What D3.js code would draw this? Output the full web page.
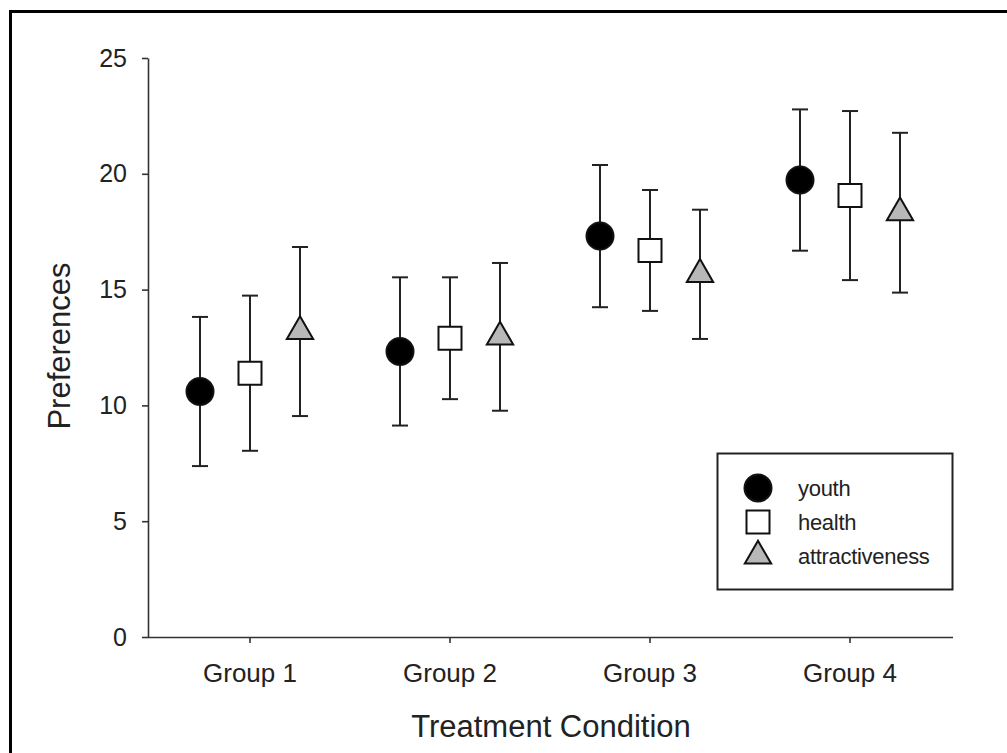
<!DOCTYPE html>
<html>
<head>
<meta charset="utf-8">
<script src="https://cdn.jsdelivr.net/npm/d3@7"></script>
<style>
  body { margin: 0; background: #fff; }
  svg { display: block; font-family: "Liberation Sans", Arial, sans-serif; }
</style>
</head>
<body>
<div id="chart"></div>
<script>
// data
const groups = ["Group 1", "Group 2", "Group 3", "Group 4"];
const seriesNames = ["youth", "health", "attractiveness"];
const youthMean = [10.6, 12.33, 17.31, 19.73];
const youthErr = [3.22, 3.2, 3.07, 3.05];
const healthMean = [11.39, 12.9, 16.69, 19.06];
const healthErr = [3.35, 2.63, 2.61, 3.65];
const attrMean = [13.19, 12.96, 15.66, 18.32];
const attrErr = [3.65, 3.19, 2.79, 3.45];
const yTicks = [0, 5, 10, 15, 20, 25];

const W = 1007, H = 753;
const svg = d3.select("#chart").append("svg")
    .attr("width", W)
    .attr("height", H);

// outer frame (runs off the right and bottom edge)
svg.append("rect")
    .attr("x", 10.5).attr("y", 11.5)
    .attr("width", 1010).attr("height", 760)
    .attr("fill", "none").attr("stroke", "#000").attr("stroke-width", 3);

let x = d3.scaleBand().domain(groups).range([150, 950]).paddingInner(0).paddingOuter(0),
    off = d3.scalePoint().domain(seriesNames).range([-50, 50]),
    y = d3.scaleLinear().domain([0, 25]).range([637, 58]);

let series = [
    {name: "youth", mean: youthMean, err: youthErr},
    {name: "health", mean: healthMean, err: healthErr},
    {name: "attractiveness", mean: attrMean, err: attrErr}
];

let symbolFor = {
    youth: {type: d3.symbolCircle, size: Math.PI * 13.5 * 13.5, fill: "#000"},
    health: {type: d3.symbolSquare, size: 23 * 23, fill: "#fff"},
    attractiveness: {type: d3.symbolTriangle, size: 300, fill: "#b8b8b8"}
};

// axes
let yAxis = svg.append("g")
    .attr("transform", "translate(148,0)")
    .call(d3.axisLeft(y).tickValues(yTicks).tickSize(6).tickSizeOuter(0).tickPadding(15));
let xAxis = svg.append("g")
    .attr("transform", "translate(0,637)")
    .call(d3.axisBottom(x).tickSize(6).tickSizeOuter(0).tickPadding(21));
xAxis.select(".domain").attr("d", "M148,0.5H953");

[xAxis, yAxis].forEach((ax) => {
    ax.select(".domain").attr("stroke", "#333").attr("stroke-width", 1.6);
    ax.selectAll(".tick line").attr("stroke", "#333").attr("stroke-width", 1.6);
    ax.selectAll(".tick text")
        .attr("fill", "#222")
        .style("font-family", "\"Liberation Sans\", Arial, sans-serif")
        .style("font-size", "25px");
});
xAxis.selectAll(".tick text").style("font-size", "26px");

// axis titles
svg.append("text")
    .attr("x", 551).attr("y", 737)
    .attr("text-anchor", "middle")
    .attr("fill", "#222")
    .style("font-size", "31px")
    .text("Treatment Condition");
svg.append("text")
    .attr("transform", "translate(70,346) rotate(-90)")
    .attr("text-anchor", "middle")
    .attr("fill", "#222")
    .style("font-size", "31px")
    .text("Preferences");

// error bars + markers
let plot = svg.append("g");
series.forEach((s) => {
    let g = plot.append("g");
    let cx = (i) => x(groups[i]) + x.bandwidth() / 2 + off(s.name);
    let pts = groups.map((gName, i) => ({i: i, m: s.mean[i], e: s.err[i]}));

    g.selectAll("line.bar").data(pts).enter().append("line")
        .attr("x1", (d) => cx(d.i)).attr("x2", (d) => cx(d.i))
        .attr("y1", (d) => y(d.m + d.e)).attr("y2", (d) => y(d.m - d.e))
        .attr("stroke", "#222").attr("stroke-width", 2);
    ["top", "bot"].forEach((k) => {
        g.selectAll("line.cap-" + k).data(pts).enter().append("line")
            .attr("x1", (d) => cx(d.i) - 8).attr("x2", (d) => cx(d.i) + 8)
            .attr("y1", (d) => y(k == "top" ? d.m + d.e : d.m - d.e))
            .attr("y2", (d) => y(k == "top" ? d.m + d.e : d.m - d.e))
            .attr("stroke", "#222").attr("stroke-width", 2);
    });

    let sym = symbolFor[s.name];
    g.selectAll("path.mark").data(pts).enter().append("path")
        .attr("d", d3.symbol().type(sym.type).size(sym.size))
        .attr("transform", (d) => "translate(" + cx(d.i) + "," + y(d.m) + ")")
        .attr("fill", sym.fill)
        .attr("stroke", "#111").attr("stroke-width", 2);
});

// legend
let legend = svg.append("g");
legend.append("rect")
    .attr("x", 717.5).attr("y", 453.5)
    .attr("width", 235).attr("height", 136)
    .attr("fill", "#fff").attr("stroke", "#222").attr("stroke-width", 2);
let legendY = d3.scalePoint().domain(seriesNames).range([488, 556]);
seriesNames.forEach((name) => {
    let sym = symbolFor[name];
    legend.append("path")
        .attr("d", d3.symbol().type(sym.type).size(sym.size))
        .attr("transform", "translate(758," + legendY(name) + ")")
        .attr("fill", sym.fill)
        .attr("stroke", "#111").attr("stroke-width", 2);
    legend.append("text")
        .attr("x", 798).attr("y", legendY(name))
        .attr("dy", "0.35em")
        .attr("fill", "#222")
        .style("font-size", "22px")
        .style("letter-spacing", "-0.3px")
        .text(name);
});
</script>
</body>
</html>
